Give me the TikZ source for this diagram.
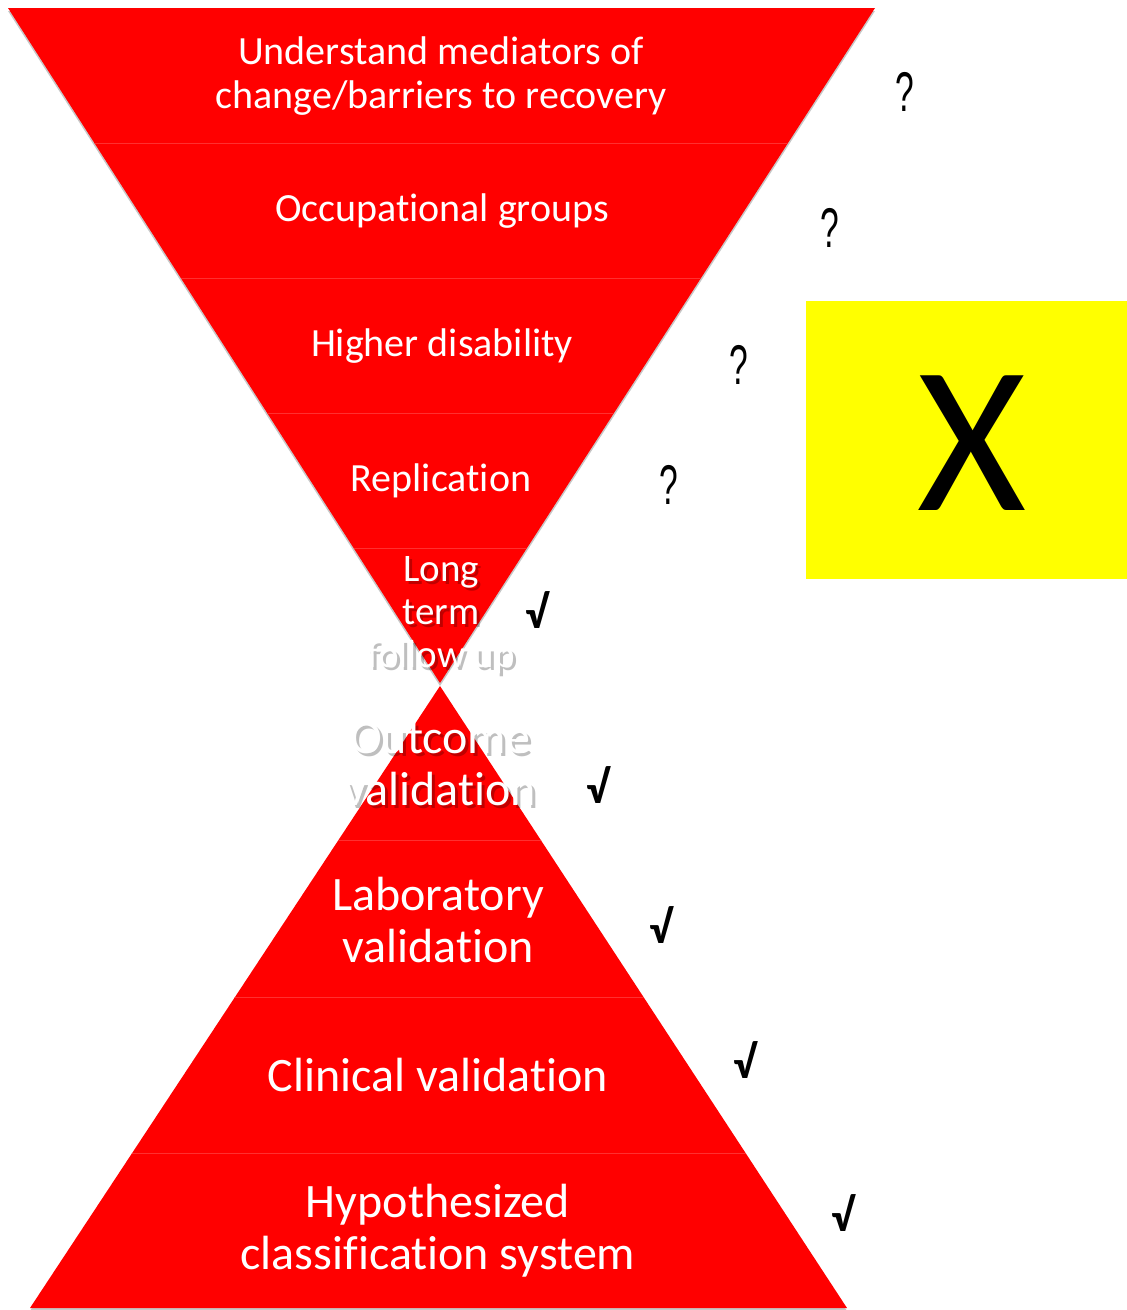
\documentclass[tikz,border=0pt]{standalone}
\usepackage{fontspec}
\usepackage{graphicx}
\setmainfont{Carlito}[Ligatures=NoCommon]
\newfontfamily\qfont{Liberation Sans}
\definecolor{pptred}{HTML}{FF0000}
\definecolor{pptyellow}{HTML}{FFFF00}
\definecolor{sepred}{HTML}{FF3030}
\begin{document}
\begin{tikzpicture}[x=1pt,y=-1pt,
  tri/.style={fill=pptred},
  trishadow/.style={fill=black,opacity=0.22},
  sep/.style={draw=sepred,line width=0.8pt},
  toplbl/.style={text=white,align=center,inner sep=0pt,font=\fontsize{40}{44}\selectfont},
  botlbl/.style={text=white,align=center,inner sep=0pt,font=\fontsize{48}{52}\selectfont},
  smalllbl/.style={text=white,align=center,inner sep=0pt,font=\fontsize{39}{43}\selectfont},
  shadowlbl/.style={text=black,opacity=0.25},
  qmark/.style={inner sep=0pt,font=\qfont\fontsize{56}{56}\selectfont},
  chk/.style={inner sep=0pt,font=\bfseries\fontsize{46}{46}\selectfont}]
\useasboundingbox (0,0) rectangle (1127,1310);
% geometry
\coordinate (TL) at (8,8);
\coordinate (TR) at (875,8);
\coordinate (TA) at (440,683);
\coordinate (BA) at (440,686);
\coordinate (BL) at (30,1308);
\coordinate (BR) at (847,1308);
% shadows
\fill[trishadow] (8,11) -- (875,11) -- (440,686) -- cycle;
\fill[trishadow] (440,689) -- (30,1311) -- (847,1311) -- cycle;
% triangles
\fill[tri] (TL) -- (TR) -- (TA) -- cycle;
\fill[tri] (BA) -- (BL) -- (BR) -- cycle;
% separators
\begin{scope}
  \clip (TL) -- (TR) -- (TA) -- cycle;
  \foreach \yy in {143,278,413,548} \draw[sep] (0,\yy) -- (1127,\yy);
\end{scope}
\begin{scope}
  \clip (BA) -- (BL) -- (BR) -- cycle;
  \foreach \yy in {840,997,1153} \draw[sep] (0,\yy) -- (1127,\yy);
\end{scope}
% labels top
\node[toplbl] (l1) at (441,76) {Understand mediators of\\change/barriers to recovery};
\node[toplbl] (l2) at (442,211) {Occupational groups};
\node[toplbl] (l3) at (442,346) {Higher disability};
\node[toplbl] (l4) at (441,481) {Replication};
\node[smalllbl,shadowlbl] (l5s) at (444,618) {Long\\term\\follow up};
\node[smalllbl] (l5) at (441,615) {Long\\term\\follow up};
% labels bottom
\node[botlbl,shadowlbl] (b1s) at (443,767) {Outcome\\validation};
\node[botlbl] (b1) at (440,764) {Outcome\\validation};
\node[botlbl] (b2) at (438,920) {Laboratory\\validation};
\node[botlbl] (b3) at (438,1075) {Clinical validation};
\node[botlbl] (b4) at (438,1231) {Hypothesized\\classification system};
% question marks
\node[qmark] (q1) at (905,92) {\scalebox{0.6}[1]{?}};
\node[qmark] (q2) at (830,228) {\scalebox{0.6}[1]{?}};
\node[qmark] (q3) at (739,365) {\scalebox{0.6}[1]{?}};
\node[qmark] (q4) at (669,485) {\scalebox{0.6}[1]{?}};
% checks
\node[chk] (c1) at (537,610) {√};
\node[chk] (c2) at (598,785) {√};
\node[chk] (c3) at (661,925) {√};
\node[chk] (c4) at (745,1060) {√};
\node[chk] (c5) at (843,1213) {√};
% yellow box
\node[fill=pptyellow,minimum width=321pt,minimum height=278pt,inner sep=0pt,anchor=north west] (box) at (806,301) {};
\node[inner sep=0pt,font=\fontsize{210}{210}\selectfont] (xx) at (972,443) {X};
\end{tikzpicture}
\end{document}
